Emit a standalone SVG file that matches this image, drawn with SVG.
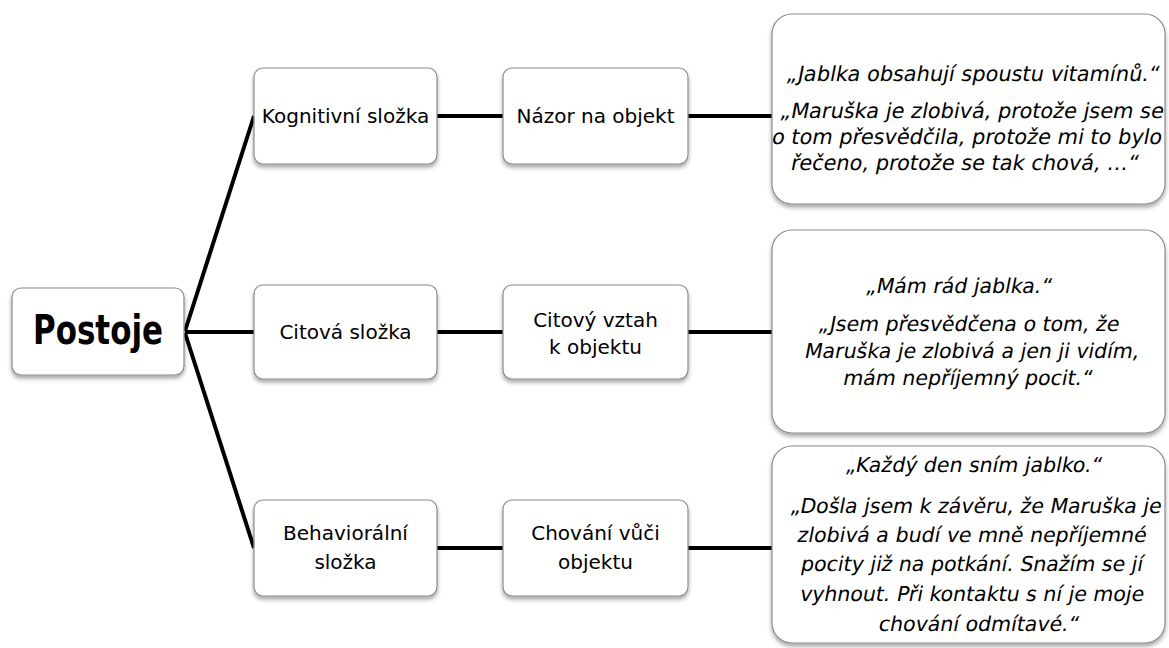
<svg xmlns="http://www.w3.org/2000/svg" width="1169" height="648" viewBox="0 0 1169 648">
<defs>
<filter id="sh" x="-10%" y="-10%" width="120%" height="130%">
<feDropShadow dx="0" dy="3" stdDeviation="2" flood-color="#000" flood-opacity="0.35"/>
</filter>
</defs>
<style>
.box{fill:#fff;stroke:#8a8a8a;stroke-width:1.2;filter:url(#sh)}
.t{font-family:"DejaVu Sans","Liberation Sans",sans-serif;font-size:20px;fill:#000;text-anchor:middle}
.q{font-family:"DejaVu Sans","Liberation Sans",sans-serif;font-size:20.5px;fill:#000;text-anchor:middle}
.q1{font-size:20.9px}
.big{font-family:"DejaVu Sans Condensed","DejaVu Sans",sans-serif;font-size:40px;font-weight:bold;fill:#000}
.c{stroke:#000;stroke-width:4;fill:none}
</style>
<rect width="1169" height="648" fill="#fff"/>
<g id="connectors">
<line class="c" x1="185" y1="331" x2="254" y2="116"/>
<line class="c" x1="185" y1="332" x2="254" y2="332"/>
<line class="c" x1="185" y1="333" x2="254" y2="548"/>
<line class="c" x1="437" y1="116" x2="503" y2="116"/>
<line class="c" x1="437" y1="332" x2="503" y2="332"/>
<line class="c" x1="437" y1="548" x2="503" y2="548"/>
<line class="c" x1="688" y1="116" x2="772" y2="116"/>
<line class="c" x1="688" y1="332" x2="772" y2="332"/>
<line class="c" x1="688" y1="548" x2="772" y2="548"/>
</g>
<g id="postoje">
<rect class="box" x="12" y="288" width="172" height="87" rx="9"/>
<text class="big" x="33" y="344" textLength="130" lengthAdjust="spacingAndGlyphs">Postoje</text>
</g>
<g id="kognitivni">
<rect class="box" x="254" y="68" width="183" height="96" rx="9"/>
<text class="t" x="345.5" y="123">Kognitivní složka</text>
</g>
<g id="nazor">
<rect class="box" x="503" y="68" width="185" height="96" rx="9"/>
<text class="t" x="595.5" y="123">Názor na objekt</text>
</g>
<g id="citova">
<rect class="box" x="254" y="285" width="183" height="94" rx="9"/>
<text class="t" x="345.5" y="339">Citová složka</text>
</g>
<g id="citovy-vztah">
<rect class="box" x="503" y="285" width="185" height="94" rx="9"/>
<text class="t" x="595.5" y="327">Citový vztah</text>
<text class="t" x="595.5" y="354">k objektu</text>
</g>
<g id="behavioralni">
<rect class="box" x="254" y="500" width="183" height="96" rx="9"/>
<text class="t" x="345.5" y="540">Behaviorální</text>
<text class="t" x="345.5" y="569">složka</text>
</g>
<g id="chovani">
<rect class="box" x="503" y="500" width="185" height="96" rx="9"/>
<text class="t" x="595.5" y="540">Chování vůči</text>
<text class="t" x="595.5" y="569">objektu</text>
</g>
<g id="kognitivni-priklad">
<rect class="box" x="772" y="14" width="393" height="190" rx="20"/>
<text class="q q1" transform="translate(972,81) skewX(-11)">„Jablka obsahují spoustu vitamínů.“</text>
<text class="q q1" transform="translate(971,118) skewX(-11)">„Maruška je zlobivá, protože jsem se</text>
<text class="q q1" transform="translate(966,144) skewX(-11)">o tom přesvědčila, protože mi to bylo</text>
<text class="q q1" transform="translate(964,170) skewX(-11)">řečeno, protože se tak chová, …“</text>
</g>
<g id="citova-priklad">
<rect class="box" x="772" y="230" width="393" height="203" rx="20"/>
<text class="q" transform="translate(958,293) skewX(-11)">„Mám rád jablka.“</text>
<text class="q" transform="translate(968,331) skewX(-11)">„Jsem přesvědčena o tom, že</text>
<text class="q" transform="translate(971,358) skewX(-11)">Maruška je zlobivá a jen ji vidím,</text>
<text class="q" transform="translate(967,385) skewX(-11)">mám nepříjemný pocit.“</text>
</g>
<g id="behavioralni-priklad">
<rect class="box" x="772" y="446" width="393" height="197" rx="20"/>
<text class="q" transform="translate(973,472) skewX(-11)">„Každý den sním jablko.“</text>
<text class="q" transform="translate(975,513) skewX(-11)">„Došla jsem k závěru, že Maruška je</text>
<text class="q" transform="translate(971,542) skewX(-11)">zlobivá a budí ve mně nepříjemné</text>
<text class="q" transform="translate(971,571) skewX(-11)">pocity již na potkání. Snažím se jí</text>
<text class="q" transform="translate(971,601) skewX(-11)">vyhnout. Při kontaktu s ní je moje</text>
<text class="q" transform="translate(978,631) skewX(-11)">chování odmítavé.“</text>
</g>
</svg>
